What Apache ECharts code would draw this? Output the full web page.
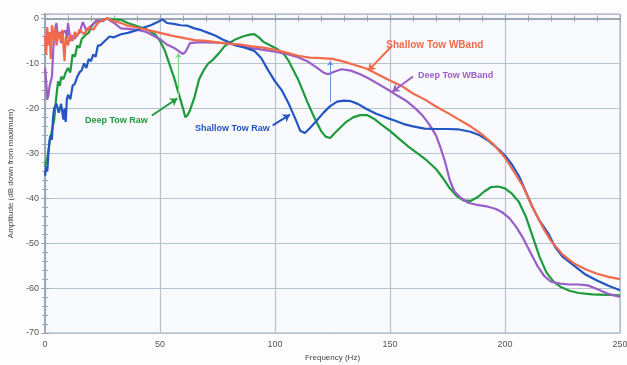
<!DOCTYPE html>
<html>
<head>
<meta charset="utf-8">
<script src="https://cdn.jsdelivr.net/npm/echarts@6/dist/echarts.min.js"></script>
<style>
  html, body { margin: 0; padding: 0; background: #fdfdfe; }
  #chart { width: 627px; height: 365px; }
</style>
</head>
<body>
<div id="chart"></div>
<script>
// frequency (Hz), amplitude (dB down from maximum)
const shallowWband = [[0,-4],[0.5,-8],[1,-2],[1.5,-6],[2,-3],[2.5,-9],[3,-1.5],[4,-5],[4.5,-2],[5,-6],[6,-3],[7,-5],[7.5,-2.5],[8.5,-9.5],[9,-4],[10,-6],[11,-3.5],[12,-5],[13,-3],[14,-4],[15,-2.5],[17,-3.5],[19,-2],[21,-2.5],[23,-1],[25,-0.3],[27,0],[30,-0.6],[33,-1],[36,-1.6],[40,-2],[45,-2.6],[50,-3.2],[55,-3.8],[60,-4.3],[65,-4.8],[70,-5],[75,-5.3],[80,-5.6],[85,-5.8],[90,-6.2],[95,-6.5],[100,-7],[105,-7.6],[110,-8.3],[115,-8.7],[120,-8.8],[125,-9],[130,-9.6],[135,-10.4],[140,-11.2],[145,-12.5],[150,-13.8],[155,-15],[160,-16.7],[165,-18],[170,-19.6],[175,-21],[180,-22.5],[185,-24],[190,-25.8],[195,-28],[200,-31],[205,-35],[208,-37.5],[211,-41],[214,-44],[217,-47],[220,-49.5],[225,-52.5],[230,-54.5],[235,-55.8],[240,-56.8],[245,-57.5],[250,-58]]

const shallowRaw = [[0,-35],[0.5,-33],[1,-34],[1.5,-30],[2,-27],[2.5,-26],[3,-27],[3.5,-22],[4,-20],[5,-19],[6,-21],[7,-19],[8,-22.5],[8.5,-20],[9,-23],[9.5,-18],[10,-17],[11,-18],[12,-15],[13,-14.5],[14,-13],[15,-12],[16,-11.5],[17,-10],[18,-11],[19,-9],[20,-9.5],[21,-8],[22,-8.5],[23,-6],[24,-6],[26,-5],[28,-4],[30,-4.2],[33,-3.5],[36,-3.2],[40,-2.6],[43,-2],[46,-1.5],[49,-0.8],[51,-0.2],[53,-1],[56,-1.2],[59,-1.5],[62,-1.6],[65,-2.2],[68,-2.6],[71,-3.2],[74,-3.8],[77,-4.6],[80,-5.3],[83,-6],[87,-6.5],[91,-7.2],[94,-8.8],[97,-11.5],[100,-14],[103,-16],[106,-19],[109,-22.5],[111,-25],[113,-25.5],[115,-24.5],[118,-22.8],[121,-21],[124,-19.5],[127,-18.5],[130,-18.3],[133,-18.4],[136,-19],[140,-20.2],[144,-21.2],[148,-22],[152,-22.7],[156,-23.5],[160,-24],[165,-24.5],[170,-24.6],[175,-24.6],[180,-24.7],[185,-25.2],[189,-26],[193,-27.3],[197,-29],[200,-30.5],[203,-32.5],[206,-35],[209,-38.5],[212,-42],[215,-45],[219,-48],[222,-51],[225,-53],[230,-55],[235,-57],[240,-58.3],[245,-59.5],[250,-60.5]]

const deepRaw = [[0,-33],[1,-31],[2,-27.5],[3,-25],[4,-22.5],[5,-17],[5.7,-14],[6.5,-15],[7,-13],[8,-13.5],[9,-12],[10,-11],[11,-12],[12,-8],[13,-8.5],[14,-6],[15,-6.5],[16,-4.5],[17,-4],[18,-3.5],[19,-3.2],[20,-2],[21,-1.2],[22,-0.8],[24,-0.4],[27,0],[30,-0.2],[33,-0.3],[36,-1],[39,-1.5],[42,-2],[45,-2.6],[48,-3.6],[50,-5],[52,-7],[54,-10],[56,-13],[58,-16.5],[60,-20],[61,-22],[62,-21.5],[63,-20.5],[65,-17.5],[67,-13.5],[69,-11.5],[71,-10],[73,-9.2],[76,-7.5],[78,-6.2],[80,-5.5],[83,-4.6],[86,-4],[89,-3.6],[91,-3.5],[93,-4.2],[95,-5.2],[98,-6],[101,-6.8],[104,-8],[106,-9.5],[108,-11.5],[110,-13.5],[112,-16],[114,-18.5],[116,-20.8],[118,-23],[120,-25],[122,-26.3],[124,-26.6],[126,-25.5],[128,-24.5],[131,-23],[134,-22],[137,-21.5],[140,-21.5],[143,-22.3],[146,-23.5],[150,-25],[154,-26.8],[158,-28.5],[162,-30],[166,-31.6],[170,-33.5],[173,-35.5],[176,-37.8],[179,-39.5],[182,-40.5],[185,-40.6],[188,-39.8],[191,-38.5],[194,-37.5],[197,-37.4],[200,-37.8],[203,-39],[206,-40.8],[209,-44],[212,-48.5],[215,-53],[218,-56.5],[221,-58.5],[224,-59.7],[228,-60.6],[232,-61.1],[238,-61.4],[244,-61.5],[250,-61.6]]

const deepWband = [[0,-11],[0.5,-14],[1,-18],[1.5,-17],[2,-15],[3,-13],[3.5,-8],[4,-3],[5,-1],[5.5,-4],[6.5,-3],[7,-5.5],[8,-3],[9,-2.7],[9.5,-4.5],[10,-1],[11,-5],[12,-3.8],[13,-4.5],[14,-3.5],[15,-3.2],[16,-1.5],[16.5,-0.8],[18,-2.7],[19.5,-1.9],[21,-1.2],[22.5,-0.4],[25,-0.6],[27,0],[30,-1],[33,-2.2],[36,-2.3],[40,-2.5],[44,-3],[47,-3.8],[50,-4.6],[53,-5.8],[56,-6.5],[58,-7.2],[60,-7.9],[61,-7.5],[62,-6.5],[63,-5.5],[66,-5.3],[70,-5.3],[75,-5.4],[80,-5.6],[85,-6.1],[90,-6.6],[95,-7],[100,-7.4],[105,-7.9],[110,-8.6],[114,-9.5],[118,-10.9],[121,-12],[123,-12.4],[126,-11.8],[129,-11.3],[133,-11.6],[137,-12.4],[141,-13.4],[145,-14.6],[149,-15.8],[153,-17.1],[157,-18.3],[161,-20],[164,-21.5],[167,-23.5],[170,-26],[172,-28.8],[174,-32],[176,-36],[178,-38.5],[181,-40],[184,-41],[188,-41.5],[192,-41.8],[196,-42.4],[199,-43.2],[202,-44.5],[205,-46.5],[208,-49],[211,-52],[214,-55],[217,-57.3],[220,-58.6],[224,-59],[228,-59.2],[232,-59.2],[236,-59.4],[240,-60.2],[245,-61.3],[250,-62]]

const colors = { red: '#f26a4b', blue: '#2356c2', green: '#1f9a3c', purple: '#9a5ec8' }
const gridColor = '#b7c2cc'
const axisColor = '#9aa6b0'

// text label + arrow for one curve: label position, arrow start, arrow end
function tag (name, color, at, from, to, size, curve) {
  return {
    markPoint: {
      silent: true,
      animation: false,
      symbol: 'circle',
      symbolSize: 0,
      data: [{
        coord: at,
        label: { show: true, formatter: name, color: color, fontSize: size, fontWeight: 'bold', fontFamily: 'Liberation Sans' }
      }]
    },
    markLine: {
      silent: true,
      animation: false,
      symbol: ['none', 'arrow'],
      symbolSize: 7,
      label: { show: false },
      lineStyle: { color: color, width: 2, type: 'solid', curveness: curve || 0 },
      data: [[{ coord: from }, { coord: to }]]
    }
  }
}

function line (name, data, color, extra) {
  return Object.assign({
    name: name,
    type: 'line',
    data: data,
    showSymbol: false,
    symbol: 'none',
    animation: false,
    lineStyle: { color: color, width: 2.2 },
    itemStyle: { color: color }
  }, extra || {})
}

const chart = echarts.init(document.getElementById('chart'))

const xBase = {
  type: 'value',
  min: 0,
  max: 250,
  interval: 50,
  minorTick: { show: true, splitNumber: 5, length: 3, lineStyle: { color: axisColor } },
  axisTick: { show: true, length: 4, lineStyle: { color: axisColor } },
  axisLine: { show: true, lineStyle: { color: axisColor, width: 2 } }
}
const yBase = {
  type: 'value',
  min: -70,
  max: 1,
  interval: 10,
  minorTick: { show: true, splitNumber: 5, length: 3, lineStyle: { color: axisColor } },
  axisTick: { show: true, length: 4, lineStyle: { color: axisColor } },
  axisLine: { show: true, lineStyle: { color: axisColor, width: 1.5 } }
}

chart.setOption({
  backgroundColor: '#fdfdfe',
  textStyle: { fontFamily: 'Liberation Sans' },
  grid: {
    left: 45, right: 7, top: 14, bottom: 32,
    outerBoundsMode: 'none',
    show: true, backgroundColor: '#f8fafd', borderColor: axisColor, borderWidth: 1
  },
  xAxis: [
    Object.assign({}, xBase, {
      position: 'bottom',
      name: 'Frequency (Hz)',
      nameLocation: 'middle',
      nameGap: 21,
      nameTextStyle: { fontSize: 8, color: '#444' },
      axisLabel: { fontSize: 9, color: '#555', margin: 7 },
      splitLine: { show: true, lineStyle: { color: gridColor, width: 1.2 } }
    }),
    Object.assign({}, xBase, {
      position: 'top',
      axisLabel: { show: false },
      splitLine: { show: false }
    })
  ],
  yAxis: [
    Object.assign({}, yBase, {
      position: 'left',
      name: 'Amplitude (dB down from maximum)',
      nameLocation: 'middle',
      nameGap: 27,
      nameTextStyle: { fontSize: 8, color: '#444' },
      axisLabel: {
        fontSize: 9, color: '#555', margin: 6,
        formatter: v => (v % 10 === 0 ? String(v) : '')
      },
      splitLine: { show: true, lineStyle: { color: gridColor, width: 1.2 } }
    }),
    Object.assign({}, yBase, {
      position: 'right',
      axisLabel: { show: false },
      splitLine: { show: false }
    })
  ],
  series: [
    line('Deep Tow Raw', deepRaw, colors.green,
      tag('Deep Tow Raw', colors.green, [31, -22.8], [46.5, -21.6], [57.5, -17.8], 9)),
    line('Deep Tow WBand', deepWband, colors.purple,
      tag('Deep Tow WBand', colors.purple, [178.5, -12.6], [160, -12.9], [151, -16.3], 9, -0.3)),
    line('Shallow Tow Raw', shallowRaw, colors.blue,
      tag('Shallow Tow Raw', colors.blue, [81.5, -24.5], [99, -23.8], [106.5, -21.4], 9)),
    line('Shallow Tow WBand', shallowWband, colors.red,
      tag('Shallow Tow WBand', colors.red, [169.5, -6], [150.5, -6.3], [140.5, -11.6], 10)),
    // thin guide arrows between curves
    {
      type: 'line',
      data: [],
      xAxisIndex: 0,
      yAxisIndex: 0,
      markLine: {
        silent: true,
        animation: false,
        symbol: ['none', 'arrow'],
        symbolSize: 5,
        label: { show: false },
        data: [
          [{ coord: [124, -18.6], lineStyle: { color: '#6f90dc', width: 1, type: 'solid' } }, { coord: [124, -9.4] }],
          [{ coord: [58, -17.6], lineStyle: { color: '#84d08f', width: 1, type: 'solid' } }, { coord: [58, -7.7] }]
        ]
      }
    }
  ]
})
</script>
</body>
</html>
